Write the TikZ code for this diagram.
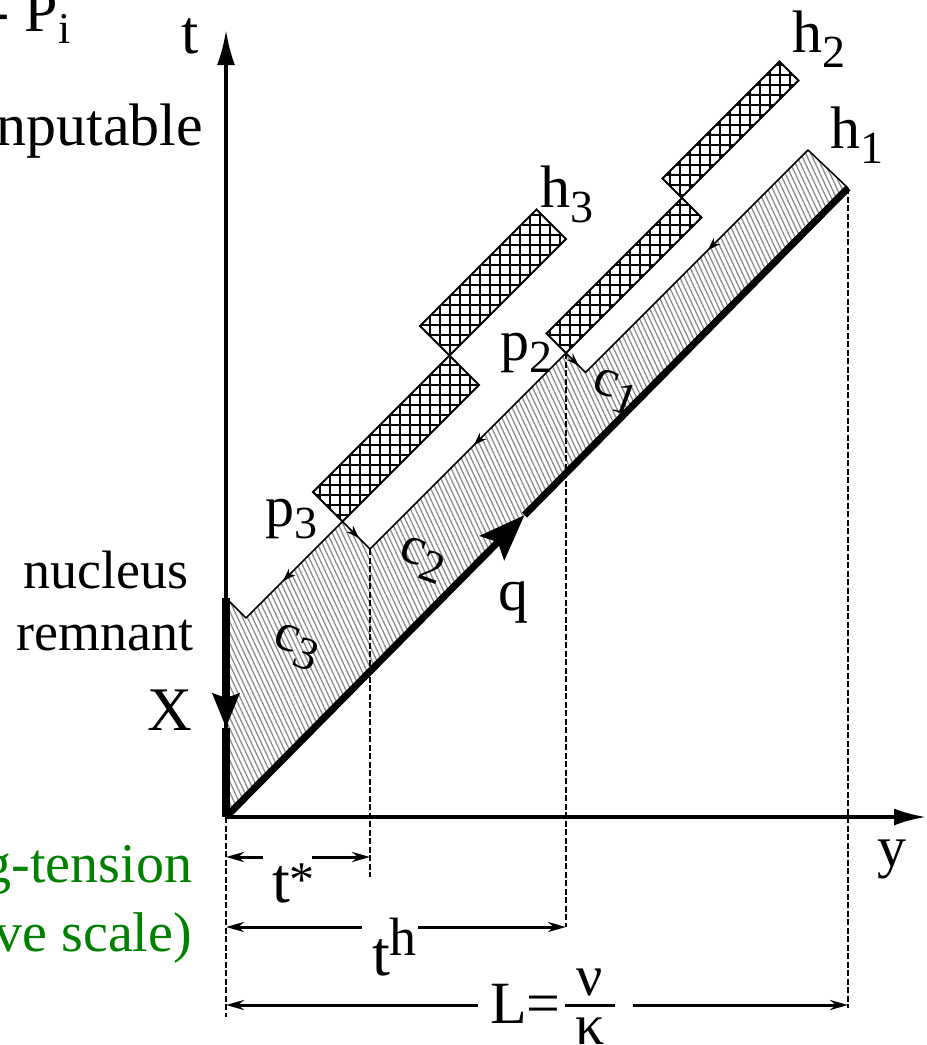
\documentclass[tikz,border=0pt]{standalone}
\usepackage{fontspec}
\setmainfont{Liberation Serif}
\newfontfamily\tnrfont{Liberation Serif}
\usetikzlibrary{arrows.meta,patterns.meta,decorations.markings,calc}
\newcommand{\fs}[1]{\tnrfont\fontsize{#1}{#1}\selectfont}
\newcommand{\lbl}[3][15pt]{#2\raisebox{-#1}{\fs{46}#3}}
\newcommand{\swpt}[3]{\coordinate (#1) at ({(#3+#2)/2},{(#3-#2)/2});}
\definecolor{slidegreen}{RGB}{0,128,0}
\tikzset{dimtip/.tip={Stealth[length=18pt,width=10pt]}}
\begin{document}
\begin{tikzpicture}[x=1pt,y=-1pt,
  txt/.style={inner sep=0pt,outer sep=0pt},
  stripedge/.style={line width=1.5pt,line join=miter},
  boxout/.style={draw=black,line width=2pt,pattern={Hatch[angle=0,distance=10pt,line width=1.6pt]},pattern color=black},
  dashv/.style={line width=2.5pt,dash pattern=on 6pt off 2.5pt},
  dimline/.style={line width=3pt},
  axisline/.style={line width=3.5pt},
  qline/.style={line width=7pt},
  xline/.style={line width=8pt},
  midarrow/.style={postaction={decorate},decoration={markings,mark=at position #1 with {\arrow{Stealth[length=13pt,width=9pt]}}}}
]
\fill[white] (0,0) rectangle (927,1045);
\useasboundingbox (0,0) rectangle (927,1045);

% key points
\coordinate (O) at (226,817);
\coordinate (E1) at (848,188);
\swpt{H1}{658}{958}
\swpt{N1}{213}{958}
\swpt{P2}{213}{919}
\swpt{N2}{-179}{919}
\swpt{P3}{-179}{864}
\swpt{L3}{-372}{864}
\coordinate (A) at (226,598);
% h2 boxes
\swpt{a1}{484}{841}\swpt{a2}{718}{841}\swpt{a3}{718}{879}\swpt{a4}{484}{879}
\swpt{b1}{213}{880}\swpt{b2}{484}{880}\swpt{b3}{484}{919}
% h3 boxes
\swpt{c1p}{94}{746}\swpt{c2p}{327}{746}\swpt{c3p}{327}{805}\swpt{c4p}{94}{805}
\swpt{d1}{-179}{805}\swpt{d3}{94}{864}

% shaded strip
\fill[pattern={Lines[angle=-65,distance=4.5pt,line width=1.3pt]},pattern color=black!45]
  (O) -- (E1) -- (H1) -- (N1) -- (P2) -- (N2) -- (P3) -- (L3) -- (A) -- cycle;

% crosshatched boxes
\path[boxout] (a1) -- (a2) -- (a3) -- (a4) -- cycle;
\path[boxout] (b1) -- (b2) -- (b3) -- (P2) -- cycle;
\path[boxout] (c1p) -- (c2p) -- (c3p) -- (c4p) -- cycle;
\path[boxout] (d1) -- (c4p) -- (d3) -- (P3) -- cycle;

% strip edges
\draw[stripedge] (E1) -- (H1);
\draw[stripedge,midarrow=0.45] (H1) -- (N1);
\draw[stripedge,midarrow=0.65] (P2) -- (N1);
\draw[stripedge,midarrow=0.47] (P2) -- (N2);
\draw[stripedge,midarrow=0.6] (P3) -- (N2);
\draw[stripedge,midarrow=0.62] (P3) -- (L3);
\draw[stripedge] (L3) -- (A);

% dashed verticals
\coordinate (Obot) at (226,1017);
\coordinate (E1bot) at (848,1008);
\coordinate (P2bot) at (P2 |- 0,927);
\coordinate (N2bot) at (N2 |- 0,877);
\draw[dashv] (O) -- (Obot);
\draw[dashv] (E1) -- (E1bot);
\draw[dashv] (P2) -- (P2bot);
\draw[dashv] (N2) -- (N2bot);

% axes
\coordinate (ttip) at (226,30);
\coordinate (ytip) at (926,817);
\draw[axisline,-{Latex[length=35pt,width=18pt]}] (O) -- (ttip);
\draw[axisline,-{Latex[length=32pt,width=17pt]}] (O) -- (ytip);

% q line
\coordinate (Qt) at ($(O)!0.48!(E1)$);
\draw[qline,-{Stealth[length=46pt,width=34pt,inset=8pt]}] (O) -- (Qt);
\draw[qline] (Qt) -- (E1);

% X line
\coordinate (Xt) at (226,728);
\draw[xline,-{Stealth[length=34pt,width=26pt,inset=4pt]}] (A) -- (Xt);
\draw[xline] (Xt) -- (O);

% dimension arrows
\coordinate (s1) at (226,857); \coordinate (s1g) at (263,857);
\coordinate (s2g) at (312,857); \coordinate (s2) at (N2 |- s1);
\draw[dimline,dimtip-] (s1) -- (s1g);
\draw[dimline,-dimtip] (s2g) -- (s2);
\coordinate (h1s) at (226,927); \coordinate (h1g) at (362,927);
\coordinate (h2g) at (418,927); \coordinate (h2s) at (P2 |- h1s);
\draw[dimline,dimtip-] (h1s) -- (h1g);
\draw[dimline,-dimtip] (h2g) -- (h2s);
\coordinate (l1s) at (226,1005); \coordinate (l1g) at (478,1005);
\coordinate (l2g) at (633,1005); \coordinate (l2s) at (E1 |- l1s);
\draw[dimline,dimtip-] (l1s) -- (l1g);
\draw[dimline,-dimtip] (l2g) -- (l2s);

% fraction
\coordinate (fb1) at (565,1005); \coordinate (fb2) at (615,1005);
\draw[line width=3pt] (fb1) -- (fb2);
\node[txt,font=\fs{60},anchor=base west] (Lq) at (490,1023) {L=};
\node[txt,font=\fs{58},anchor=base] (nu) at (590,995) {ν};
\node[txt,font=\fs{58},anchor=base] (kappa) at (590,1044) {κ};

% dimension labels
\node[txt,font=\fs{64},anchor=base west] (tstar) at (272,902) {t\raisebox{6pt}{\fs{50}*}};
\node[txt,font=\fs{64},anchor=base west] (th) at (372,975) {t\raisebox{20pt}{\fs{54}h}};

% axis labels
\node[txt,font=\fs{62},anchor=base west] (tlab) at (181,53) {t};
\node[txt,font=\fs{58},anchor=base west] (ylab) at (877,866) {y};
\node[txt,font=\fs{62},anchor=base west] (Xlab) at (147,730) {X};
\node[txt,font=\fs{60},anchor=base west] (qlab) at (498,610) {q};

% h, p, c labels
\node[txt,font=\fs{60},anchor=base west] (h1lab) at (830,148) {\lbl{h}{1}};
\node[txt,font=\fs{60},anchor=base west] (h2lab) at (792,52) {\lbl{h}{2}};
\node[txt,font=\fs{60},anchor=base west] (h3lab) at (540,207) {\lbl{h}{3}};
\node[txt,font=\fs{58},anchor=base west] (p2lab) at (500,360) {\lbl[12pt]{p}{2}};
\node[txt,font=\fs{58},anchor=base west] (p3lab) at (265,526) {\lbl[12pt]{p}{3}};
\node[txt,font=\fs{54},rotate=-20] (c1lab) at (615,392) {\lbl[12pt]{c}{1}};
\node[txt,font=\fs{54},rotate=-20] (c2lab) at (422,560) {\lbl[12pt]{c}{2}};
\node[txt,font=\fs{54},rotate=-20] (c3lab) at (296,647) {\lbl[12pt]{c}{3}};

% left side texts
\node[txt,font=\fs{54},anchor=base east] (nuc) at (188,588) {nucleus};
\node[txt,font=\fs{54},anchor=base east] (rem) at (193,650) {remnant};
\node[txt,font=\fs{56},anchor=base east,text=slidegreen] (gt) at (192,882) {g-tension};
\node[txt,font=\fs{56},anchor=base east,text=slidegreen] (vs) at (192,951) {ve scale)};
\node[txt,font=\fs{60},anchor=base west] (Pi) at (-10,31) {-\hspace{0.25em}P\raisebox{-12pt}{\fs{44}i}};
\node[txt,font=\fs{60},anchor=base east] (comp) at (203,145) {nputable};
\node[txt,font=\fs{60},anchor=base east] (efrag) at (2,307) {e};
\end{tikzpicture}
\end{document}
